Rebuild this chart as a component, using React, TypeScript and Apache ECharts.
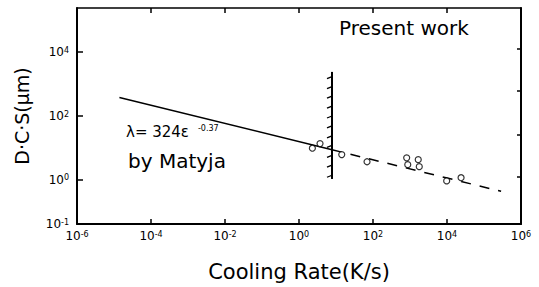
import React, { useEffect, useRef } from "react";
import * as echarts from "echarts";

// x: cooling rate (K/s), y: D.C.S (µm) — both log10 scaled
const xTickExponents = [-6, -4, -2, 0, 2, 4, 6];
const yLabelExponents = [-1.38, 0, 2, 4];
const yTickExponents = [0, 2, 4];
const rightTickExponents = [0.09, 1.42, 2.8, 4.12];

const matyjaRate = [1.4e-5, 7.8];
const matyjaDcs = [380, 8.8];

const presentLineRate = [7.8, 2.9e5];
const presentLineDcs = [8.8, 0.44];

const pointRate = [2.3, 3.7, 14.3, 69, 813, 870, 1670, 1780, 9800, 24000];
const pointDcs = [9.8, 13.7, 6.2, 3.7, 4.9, 3.0, 4.3, 2.6, 0.93, 1.17];

const boundaryRate = 7.8;
const boundaryDcs = [1.07, 2400];
const hatchDcs = [1700, 830, 417, 204, 100, 49, 24, 12, 5.9, 2.9, 1.4];

const lg = (v: number) => Math.log10(v);
const FONT = "DejaVu Sans";

export default function App() {
  const ref = useRef<HTMLDivElement>(null);
  useEffect(() => {
    if (!ref.current) return;
    const chart = echarts.init(ref.current, undefined, { renderer: "svg" });
    const richLabel = {
      b: { fontSize: 12, fontFamily: FONT, color: "#000", verticalAlign: "bottom" as const },
      s: { fontSize: 8, fontFamily: FONT, color: "#000", verticalAlign: "top" as const },
    };
    const fmt = (v: number) => `{b|10}{s|${Math.round(v)}}`;
    const axisLine = { show: true, onZero: false, lineStyle: { color: "#000", width: 2 } };
    chart.setOption({
      animation: false,
      backgroundColor: "#fff",
      grid: { left: 77, right: 18, top: 8, bottom: 59 },
      xAxis: [
        {
          type: "value",
          min: xTickExponents[0],
          max: xTickExponents[xTickExponents.length - 1],
          interval: 2,
          name: "Cooling Rate(K/s)",
          nameLocation: "middle",
          nameGap: 37,
          nameTextStyle: { fontSize: 21, fontFamily: FONT, color: "#000" },
          axisLine,
          axisTick: { show: true, inside: true, length: 5, lineStyle: { color: "#000", width: 1.5 } },
          axisLabel: { margin: 6, formatter: fmt, rich: richLabel },
          splitLine: { show: false },
        },
        {
          type: "value",
          position: "top",
          min: -6,
          max: 6,
          interval: 2,
          axisLine: { show: true, onZero: false, lineStyle: { color: "#000", width: 1.6 } },
          axisTick: { show: true, inside: true, length: 5, lineStyle: { color: "#000", width: 1.5 } },
          axisLabel: { show: false },
          splitLine: { show: false },
        },
      ],
      yAxis: [
        {
          type: "value",
          min: -1.38,
          max: 5.38,
          name: "D·C·S(μm)",
          nameLocation: "middle",
          nameGap: 46,
          nameTextStyle: { fontSize: 19, fontFamily: FONT, color: "#000" },
          axisLine,
          axisTick: {
            show: true,
            inside: true,
            length: 6,
            customValues: yTickExponents,
            lineStyle: { color: "#000", width: 1.5 },
          },
          axisLabel: { margin: 8, customValues: yLabelExponents, formatter: fmt, rich: richLabel },
          splitLine: { show: false },
        },
        {
          type: "value",
          position: "right",
          min: -1.38,
          max: 5.38,
          axisLine,
          axisTick: {
            show: true,
            inside: true,
            length: 4,
            customValues: rightTickExponents,
            lineStyle: { color: "#000", width: 1.5 },
          },
          axisLabel: { show: false },
          splitLine: { show: false },
        },
      ],
      graphic: [
        {
          type: "text",
          left: 339,
          top: 18,
          style: { text: "Present work", fontSize: 20, fontFamily: FONT, fill: "#000" },
        },
        {
          type: "text",
          left: 126,
          top: 124,
          style: {
            text: "{a|λ= 324ε}{s|-0.37}",
            rich: {
              a: { fontSize: 15, fontFamily: FONT, fill: "#000", verticalAlign: "bottom" },
              s: { fontSize: 8, fontFamily: FONT, fill: "#000", verticalAlign: "top", padding: [0, 0, 0, 9] },
            },
          },
        },
        {
          type: "text",
          left: 128,
          top: 151,
          style: { text: "by Matyja", fontSize: 20, fontFamily: FONT, fill: "#000" },
        },
      ],
      series: [
        {
          type: "line",
          data: matyjaRate.map((r, i) => [lg(r), lg(matyjaDcs[i])]),
          showSymbol: false,
          lineStyle: { color: "#000", width: 1.5 },
        },
        {
          type: "line",
          data: presentLineRate.map((r, i) => [lg(r), lg(presentLineDcs[i])]),
          showSymbol: false,
          lineStyle: { color: "#000", width: 1.5, type: [10, 9] },
        },
        {
          type: "line",
          data: boundaryDcs.map((d) => [lg(boundaryRate), lg(d)]),
          showSymbol: false,
          lineStyle: { color: "#000", width: 2 },
        },
        {
          type: "custom",
          data: hatchDcs.map((d) => [lg(boundaryRate), lg(d)]),
          renderItem: (params: any, api: any) => {
            const p = api.coord([api.value(0), api.value(1)]);
            return {
              type: "line",
              shape: { x1: p[0], y1: p[1], x2: p[0] - 5, y2: p[1] + 2 },
              style: { stroke: "#000", lineWidth: 1.3 },
            };
          },
        },
        {
          type: "scatter",
          data: pointRate.map((r, i) => [lg(r), lg(pointDcs[i])]),
          symbol: "circle",
          symbolSize: 6,
          itemStyle: { color: "#fff", borderColor: "#000", borderWidth: 1.2 },
          z: 5,
        },
      ],
    });
    return () => chart.dispose();
  }, []);
  return (
    <div
      ref={ref}
      style={{ position: "fixed", left: 0, top: 0, width: 539, height: 287, background: "#fff" }}
    />
  );
}
